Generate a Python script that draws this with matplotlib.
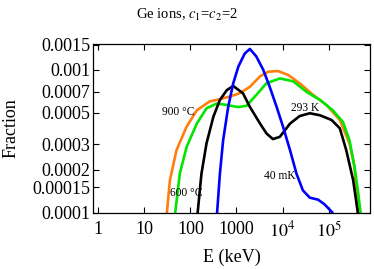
import numpy as np
import matplotlib
matplotlib.use("Agg")
import matplotlib.pyplot as plt
from matplotlib.ticker import FixedLocator, FixedFormatter, NullFormatter, LogLocator

plt.rcParams['font.family'] = ['Liberation Serif', 'DejaVu Serif']
plt.rcParams['mathtext.fontset'] = 'stix'

# --- data (E in keV, fraction) ---
e_900 = [28, 31, 36, 50, 83, 138, 224, 263, 372, 724, 1175, 1950, 3240, 4900, 7940,
         13200, 23400, 45700, 89100, 174000, 282000, 363000, 427000, 460000]
f_900 = [8e-5, 1.0e-4, 1.68e-4, 2.73e-4, 4.0e-4, 5.2e-4, 5.8e-4, 6.0e-4, 6.15e-4,
         6.5e-4, 6.85e-4, 7.6e-4, 9.0e-4, 9.7e-4, 9.8e-4, 9.2e-4, 8.05e-4, 6.67e-4,
         5.67e-4, 4.45e-4, 3.05e-4, 2.08e-4, 1.0e-4, 8e-5]

e_600 = [43, 47, 59, 83, 138, 224, 372, 617, 1000, 1175, 1660, 2510, 4470, 8710,
         17000, 33100, 64600, 123000, 204000, 282000, 363000, 427000, 490000, 520000]
f_600 = [8e-5, 1.0e-4, 1.87e-4, 2.88e-4, 4.2e-4, 5.37e-4, 5.8e-4, 5.67e-4, 5.5e-4,
         5.5e-4, 5.6e-4, 6.5e-4, 8.05e-4, 8.7e-4, 8.3e-4, 7.0e-4, 6.15e-4, 5.2e-4,
         4.3e-4, 3.2e-4, 2.08e-4, 1.43e-4, 1.0e-4, 8e-5]

e_293 = [135, 144, 174, 224, 316, 437, 617, 851, 1380, 1950, 3240, 4470, 6170, 8710,
         14500, 23400, 38900, 64600, 115000, 174000, 240000, 339000, 427000, 460000]
f_293 = [8e-5, 1.0e-4, 1.87e-4, 3.05e-4, 4.7e-4, 6.15e-4, 7.2e-4, 7.7e-4, 6.85e-4,
         5.5e-4, 4.2e-4, 3.58e-4, 3.27e-4, 3.39e-4, 4.2e-4, 4.74e-4, 4.96e-4, 4.8e-4,
         4.45e-4, 3.89e-4, 2.73e-4, 1.68e-4, 1.0e-4, 8e-5]

e_40 = [360, 380, 437, 513, 661, 851, 1100, 1510, 1950, 2690, 3800, 5250, 7410, 10200,
        14500, 20000, 27500, 38900, 58900, 81300, 120000, 135000]
f_40 = [8e-5, 1.0e-4, 1.87e-4, 3.2e-4, 5.5e-4, 8.05e-4, 1.055e-3, 1.3e-3, 1.4e-3,
        1.24e-3, 1.0e-3, 7.6e-4, 5.5e-4, 4.0e-4, 2.73e-4, 1.87e-4, 1.43e-4, 1.27e-4,
        1.23e-4, 1.14e-4, 1.0e-4, 8e-5]

yticks = [0.0001, 0.00015, 0.0002, 0.0003, 0.0005, 0.0007, 0.001, 0.0015]
ytick_labels = ['0.0001', '0.00015', '0.0002', '0.0003', '0.0005', '0.0007', '0.001', '0.0015']
xticks = [1, 10, 100, 1000, 1e4, 1e5]
xtick_labels = ['1', '10', '100', '1000', r'$10^4$', r'$10^5$']

fig = plt.figure(figsize=(3.74, 2.69), dpi=100)
ax = fig.add_axes([0.249, 0.210, 0.740, 0.627])

lw = 1.9
ax.plot(e_900, f_900, color='#ff7f0e', lw=lw)
ax.plot(e_600, f_600, color='#00e600', lw=lw)
ax.plot(e_293, f_293, color='black', lw=lw)
ax.plot(e_40, f_40, color='#0000ff', lw=lw)

ax.set_xscale('log')
ax.set_yscale('log')
ax.set_xlim(0.78, 7.8e5)
ax.set_ylim(1e-4, 1.52e-3)

ax.yaxis.set_major_locator(FixedLocator(yticks))
ax.yaxis.set_major_formatter(FixedFormatter(ytick_labels))
ax.yaxis.set_minor_locator(FixedLocator([]))
ax.yaxis.set_minor_formatter(NullFormatter())
ax.xaxis.set_major_locator(FixedLocator(xticks))
ax.xaxis.set_major_formatter(FixedFormatter(xtick_labels))
ax.xaxis.set_minor_locator(LogLocator(base=10, subs=np.arange(2, 10)))
ax.xaxis.set_minor_formatter(NullFormatter())

ax.tick_params(which='both', direction='in', top=True, right=True, labelsize=13)
ax.tick_params(axis='y', pad=2)
ax.tick_params(axis='x', pad=6)
ax.tick_params(which='major', length=4, width=0.8)
ax.tick_params(which='minor', length=2, width=0.6)
for s in ax.spines.values():
    s.set_linewidth(0.9)

ax.set_xlabel('E (keV)', fontsize=13, labelpad=6)
ax.set_ylabel('Fraction', fontsize=13, labelpad=9)
fig.suptitle(r'Ge ions, $c_1$=$c_2$=2', fontsize=10.5, y=0.975)

ax.text(54, 5.08e-4, '900 °C', fontsize=8.3, ha='center', va='center')
ax.text(83, 1.36e-4, '600 °C', fontsize=8.3, ha='center', va='center')
ax.text(30000, 5.43e-4, '293 K', fontsize=8.3, ha='center', va='center')
ax.text(8700, 1.8e-4, '40 mK', fontsize=8.3, ha='center', va='center')

fig.savefig('out.png', dpi=100)
